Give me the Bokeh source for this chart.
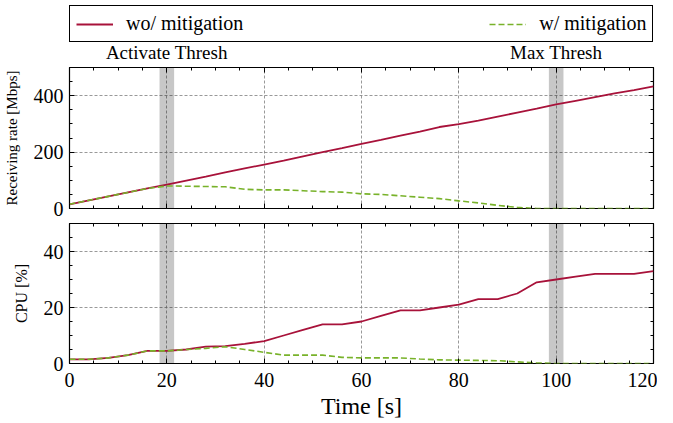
from bokeh.plotting import figure
from bokeh.layouts import column
from bokeh.models import (Range1d, LinearAxis, SingleIntervalTicker, BoxAnnotation,
                          Label, Legend, LegendItem, ColumnDataSource)
from bokeh.embed import file_html
from bokeh.resources import INLINE

# ---- data ----
time_s = [0, 4, 8, 12, 16, 20, 24, 28, 32, 36, 40, 44, 48, 52, 56, 60,
          64, 68, 72, 76, 80, 84, 88, 92, 96, 100, 104, 108, 112, 116, 120]
rate_wo = [15, 29, 43, 57, 71, 85, 99, 113, 128, 142, 156, 170, 185, 200, 214, 229,
           243, 258, 273, 289, 299, 312, 326, 340, 354, 369, 382, 395, 408, 420, 433]
rate_w = [15, 29, 43, 57, 71, 80, 79, 78, 77, 68, 66, 66, 63, 60, 58, 52,
          50, 45, 40, 35, 27, 20, 11, 4, 0, 0, 0, 0, 0, 0, 0]
cpu_wo = [1.5, 1.5, 2, 3, 4.5, 4.5, 5, 6, 6.2, 7, 8, 10, 12, 14, 14, 15,
          17, 19, 19, 20, 21, 23, 23, 25, 29, 30, 31, 32, 32, 32, 33]
cpu_w = [1.5, 1.5, 2, 3, 4.5, 4.5, 5, 5.4, 6, 5, 4, 3, 3, 3, 2.2, 2,
         2, 2, 1.6, 1.3, 1.2, 1.1, 1.0, 0.6, 0.2, 0, 0, 0, 0, 0, 0]
labels = ["wo/ mitigation", "w/ mitigation"]
thresholds = [20, 100]
threshold_names = ["Activate Thresh", "Max Thresh"]
band_half = 1.5

RED = "#a8123a"
GREEN = "#78b22a"
FONT = "Liberation Serif"
FRAME_W = 584
LEFT_B = 63
RIGHT_B = 10

src = ColumnDataSource(dict(t=time_s, rate_wo=rate_wo, rate_w=rate_w, cpu_wo=cpu_wo, cpu_w=cpu_w))


def style_axis(ax, show_labels):
    ax.major_tick_in = 5
    ax.major_tick_out = 0
    ax.minor_tick_in = 3
    ax.minor_tick_out = 0
    ax.axis_line_color = None
    ax.major_tick_line_color = "black"
    ax.minor_tick_line_color = "black"
    ax.major_tick_line_width = 1
    ax.minor_tick_line_width = 1
    ax.major_label_text_font = FONT
    ax.major_label_text_color = "black"
    ax.axis_label_text_font = FONT
    ax.axis_label_text_font_style = "normal"
    ax.axis_label_text_color = "black"
    if show_labels:
        ax.major_label_text_font_size = "20px"
        ax.major_label_standoff = 6
    else:
        ax.major_label_text_font_size = "0px"
        ax.major_label_standoff = 0


def make_fig(y_end, y_interval, frame_h, top_border, bottom_border, show_x_labels):
    p = figure(frame_width=FRAME_W, frame_height=frame_h,
               x_range=Range1d(0, 120), y_range=Range1d(0, y_end),
               min_border_left=LEFT_B, min_border_right=RIGHT_B,
               min_border_top=top_border, min_border_bottom=bottom_border,
               output_backend="svg", toolbar_location=None)
    p.outline_line_color = "black"
    p.outline_line_width = 1.2
    p.outline_line_alpha = 1
    xt = SingleIntervalTicker(interval=20, num_minor_ticks=4)
    yt = SingleIntervalTicker(interval=y_interval, num_minor_ticks=4)
    xb = p.below[0]
    yl = p.left[0]
    xb.ticker = xt
    yl.ticker = yt
    style_axis(xb, show_x_labels)
    style_axis(yl, True)
    top_ax = LinearAxis(ticker=xt)
    right_ax = LinearAxis(ticker=yt)
    style_axis(top_ax, False)
    style_axis(right_ax, False)
    p.add_layout(top_ax, "above")
    p.add_layout(right_ax, "right")
    for g in (p.xgrid[0], p.ygrid[0]):
        g.grid_line_color = "#7f7f7f"
        g.grid_line_dash = "3 2"
        g.grid_line_width = 0.8
    p.xgrid[0].ticker = xt
    p.ygrid[0].ticker = yt
    p.background_fill_color = "white"
    p.border_fill_color = "white"
    return p, xb, yl


def make_strip(h):
    s = figure(frame_width=FRAME_W, frame_height=h, x_range=Range1d(0, 120), y_range=Range1d(0, h),
               min_border_left=LEFT_B, min_border_right=RIGHT_B, min_border_top=0, min_border_bottom=0,
               x_axis_type=None, y_axis_type=None, output_backend="svg", toolbar_location=None)
    s.outline_line_color = None
    s.xgrid.visible = False
    s.ygrid.visible = False
    s.background_fill_color = "white"
    s.border_fill_color = "white"
    return s


# ---- header: legend + threshold names ----
HEAD_H = 66
head = make_strip(HEAD_H)
hr = head.line("t", "rate_wo", source=src, line_color=RED, line_width=1.8, visible=False)
hg = head.line("t", "rate_w", source=src, line_color=GREEN, line_width=1.6, line_dash="6 3", visible=False)
legend = Legend(items=[LegendItem(label=labels[0], renderers=[hr]),
                       LegendItem(label=labels[1], renderers=[hg])],
                location=(0, 24), orientation="horizontal", spacing=246, padding=6,
                glyph_width=37, label_standoff=13, margin=0,
                border_line_color="black", border_line_width=1, border_line_alpha=1,
                background_fill_color="white", background_fill_alpha=1,
                label_text_font=FONT, label_text_font_size="20px", label_text_color="black")
head.add_layout(legend, "center")
for th, name in zip(thresholds, threshold_names):
    head.add_layout(Label(x=th, y=14, text=name, text_align="center", text_baseline="middle",
                          text_font=FONT, text_font_size="19px", text_color="black"))

# ---- top panel ----
p1, xb1, yl1 = make_fig(500, 200, 141, 1, 12, False)
yl1.axis_label = "Receiving rate [Mbps]"
yl1.axis_label_text_font_size = "15px"
yl1.axis_label_standoff = 11
for th in thresholds:
    p1.add_layout(BoxAnnotation(left=th - band_half, right=th + band_half,
                                fill_color="black", fill_alpha=0.22, line_color=None,
                                level="underlay"))
p1.line("t", "rate_wo", source=src, line_color=RED, line_width=1.8)
p1.line("t", "rate_w", source=src, line_color=GREEN, line_width=1.6, line_dash="6 3")

# ---- gap strip (band continues between the panels) ----
gap = make_strip(2)
for th in thresholds:
    gap.add_layout(BoxAnnotation(left=th - band_half, right=th + band_half,
                                 fill_color="black", fill_alpha=0.22, line_color=None))

# ---- bottom panel ----
p2, xb2, yl2 = make_fig(50, 20, 140, 1, 0, True)
yl2.axis_label = "CPU [%]"
yl2.axis_label_text_font_size = "16px"
yl2.axis_label_standoff = 11
xb2.major_label_standoff = 9
xb2.axis_label = "Time [s]"
xb2.axis_label_text_font_size = "24px"
xb2.axis_label_standoff = 3
for th in thresholds:
    p2.add_layout(BoxAnnotation(left=th - band_half, right=th + band_half,
                                fill_color="black", fill_alpha=0.22, line_color=None,
                                level="underlay"))
p2.line("t", "cpu_wo", source=src, line_color=RED, line_width=1.8)
p2.line("t", "cpu_w", source=src, line_color=GREEN, line_width=1.6, line_dash="6 3")

layout = column(head, p1, gap, p2, spacing=0)
open("out.html", "w").write(file_html(layout, INLINE))
